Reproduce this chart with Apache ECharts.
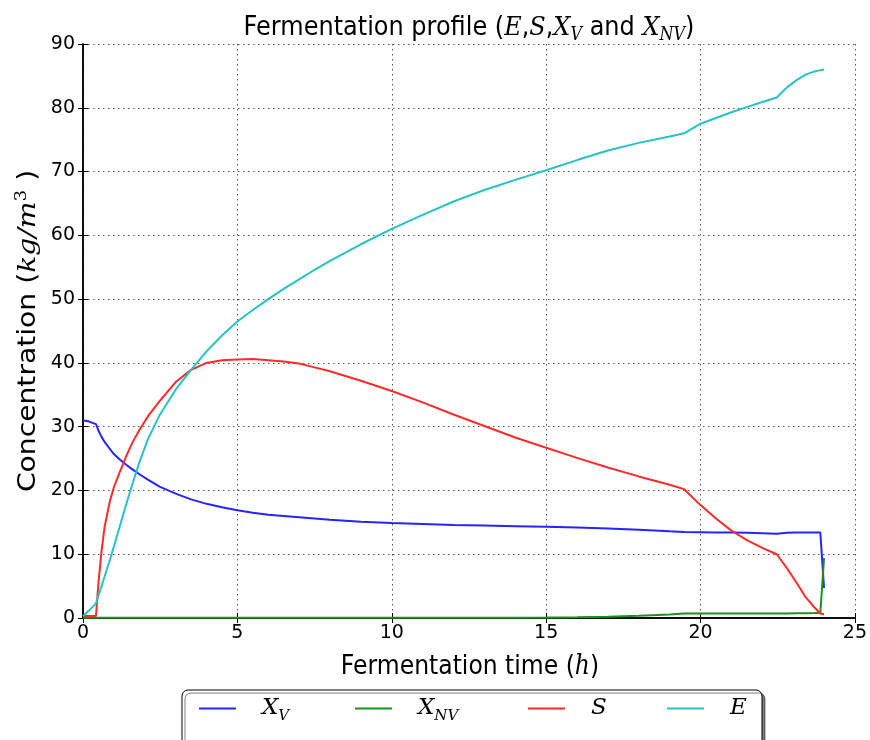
<!DOCTYPE html>
<html><head><meta charset="utf-8">
<script src="https://cdn.jsdelivr.net/npm/echarts@6/dist/echarts.min.js"></script>
<style>html,body{margin:0;padding:0;background:#fff}#c{width:870px;height:740px}</style>
</head><body><div id="c"></div>
<script>
// Fermentation time (h)
const time = [0, 0.2, 0.42, 0.5, 0.6, 0.7, 0.87, 1.0, 1.2, 1.41,
  1.6, 1.84, 2.1, 2.48, 3.0, 3.5, 4.0, 4.5, 5.0, 5.5,
  6.0, 6.5, 7, 7.5, 8, 9, 10, 11, 12, 13,
  14, 15, 16, 17, 18, 19, 19.47, 20, 20.5, 21,
  21.5, 22, 22.47, 22.8, 23.1, 23.4, 23.7, 23.88, 24.0];
// Viable biomass X_V
const XV = [31.0, 30.8, 30.4, 29.4, 28.4, 27.6, 26.5, 25.7, 24.8, 24.0,
  23.3, 22.5, 21.7, 20.6, 19.5, 18.6, 17.9, 17.35, 16.9, 16.5,
  16.2, 16.0, 15.8, 15.6, 15.4, 15.1, 14.9, 14.75, 14.6, 14.5,
  14.4, 14.3, 14.2, 14.05, 13.85, 13.6, 13.5, 13.45, 13.4, 13.4,
  13.35, 13.3, 13.2, 13.35, 13.4, 13.4, 13.4, 13.4, 4.7];
// Non-viable biomass X_NV
const XNV = [0.02, 0.02, 0.02, 0.02, 0.02, 0.02, 0.02, 0.02, 0.02, 0.02,
  0.02, 0.02, 0.02, 0.02, 0.02, 0.02, 0.02, 0.02, 0.02, 0.02,
  0.03, 0.03, 0.03, 0.03, 0.03, 0.03, 0.03, 0.03, 0.04, 0.04,
  0.05, 0.06, 0.1, 0.2, 0.35, 0.55, 0.7, 0.7, 0.7, 0.7,
  0.7, 0.7, 0.7, 0.72, 0.74, 0.76, 0.78, 0.8, 9.4];
// Substrate S
const S = [0.3, 0.3, 0.3, 5.5, 10.5, 14.3, 18.3, 20.5, 23.0, 25.5,
  27.5, 29.6, 31.6, 34.0, 37.0, 38.9, 40.0, 40.4, 40.55, 40.6,
  40.4, 40.2, 39.9, 39.3, 38.7, 37.2, 35.6, 33.8, 31.9, 30.1,
  28.3, 26.7, 25.1, 23.6, 22.2, 20.9, 20.2, 17.7, 15.6, 13.7,
  12.2, 11.0, 10.0, 7.8, 5.6, 3.3, 1.6, 0.7, 0.6];
// Ethanol E
const E = [0.3, 1.2, 2.3, 3.5, 5.0, 6.5, 9.1, 11.2, 14.5, 18.0,
  21.0, 24.6, 28.0, 31.8, 35.8, 38.9, 41.8, 44.3, 46.5, 48.3,
  50.0, 51.6, 53.1, 54.6, 56.0, 58.6, 61.0, 63.2, 65.3, 67.1,
  68.7, 70.2, 71.8, 73.3, 74.5, 75.5, 76.0, 77.5, 78.4, 79.3,
  80.1, 80.9, 81.6, 83.2, 84.3, 85.2, 85.7, 85.9, 86.0];

const xTicks = [0, 5, 10, 15, 20, 25];
const yTicks = [0, 10, 20, 30, 40, 50, 60, 70, 80, 90];

const seriesNames = ['XV', 'XNV', 'S', 'E'];
const seriesValues = [XV, XNV, S, E];
const seriesColors = ['#2424ff', '#1f8f1f', '#ff2a2a', '#26c3c3'];
const legendLabels = {
  XV: '{g|}{i|X}{s|V}',
  XNV: '{g|}{i|X}{s|NV}',
  S: '{g|}{i|S}',
  E: '{g|}{i|E}'
};
const legendLeft = [199, 355, 528, 667];

const SANS = 'DejaVu Sans';
const MATH = 'DejaVu Serif';

function pairs(vals) { return time.map((t, k) => [t, vals[k]]); }

const chart = echarts.init(document.getElementById('c'), null, {renderer: 'canvas'});

const gridLine = {show: true, lineStyle: {color: '#555', width: 1, type: [1.5, 3.5]}};
const tickIn = {show: true, inside: true, length: 5, lineStyle: {color: '#000', width: 1}};
const axLine = {show: true, lineStyle: {color: '#000', width: 1.5}};
const lblStyle = {fontFamily: SANS, fontSize: 19, color: '#000'};

const legendRich = {
  g: {width: 21, height: 10},
  i: {fontFamily: MATH, fontStyle: 'italic', fontSize: 23, lineHeight: 30, color: '#000'},
  s: {fontFamily: MATH, fontStyle: 'italic', fontSize: 15, lineHeight: 18, verticalAlign: 'bottom', color: '#000'}
};

const option = {
  animation: false,
  backgroundColor: '#fff',
  grid: {left: 83, top: 44, width: 775, height: 574, containLabel: false},
  xAxis: [
    {type: 'value', position: 'bottom', min: xTicks[0], max: xTicks[xTicks.length - 1], interval: xTicks[1] - xTicks[0],
     axisLine: axLine, axisTick: tickIn, splitLine: gridLine,
     axisLabel: Object.assign({margin: 6}, lblStyle)},
    {type: 'value', position: 'top', min: xTicks[0], max: xTicks[xTicks.length - 1], interval: xTicks[1] - xTicks[0],
     axisLine: axLine, axisTick: tickIn, splitLine: {show: false}, axisLabel: {show: false}}
  ],
  yAxis: [
    {type: 'value', position: 'left', min: yTicks[0], max: yTicks[yTicks.length - 1], interval: yTicks[1] - yTicks[0],
     axisLine: axLine, axisTick: tickIn, splitLine: gridLine,
     axisLabel: Object.assign({margin: 8}, lblStyle)},
    {type: 'value', position: 'right', min: yTicks[0], max: yTicks[yTicks.length - 1], interval: yTicks[1] - yTicks[0],
     axisLine: axLine, axisTick: tickIn, splitLine: {show: false}, axisLabel: {show: false}}
  ],
  legend: seriesNames.map((nm, k) => ({
    show: true,
    orient: 'horizontal',
    left: legendLeft[k], top: 697,
    padding: 0,
    z: 6,
    icon: 'rect',
    itemWidth: 37, itemHeight: 2,
    data: [nm],
    formatter: name => legendLabels[name],
    textStyle: {color: '#000', rich: legendRich}
  })),
  graphic: [
    {type: 'rect', z: 2, shape: {x: 182, y: 690, width: 580, height: 60, r: 6},
     style: {fill: '#fff', stroke: '#000', lineWidth: 1,
             shadowColor: 'rgba(0,0,0,0.5)', shadowBlur: 0, shadowOffsetX: 3, shadowOffsetY: 3}},
    {type: 'text', x: 469, y: 28, scaleY: 1.12, style: {
      text: '{n|Fermentation profile (}{i|E}{n|,}{i|S}{n|,}{i|X}{s|V}{n| and }{i|X}{s|NV}{n|)}',
      align: 'center', verticalAlign: 'middle',
      rich: {
        n: {fontFamily: SANS, fontSize: 24, lineHeight: 30, fill: '#000'},
        i: {fontFamily: MATH, fontStyle: 'italic', fontSize: 24, lineHeight: 30, fill: '#000'},
        s: {fontFamily: MATH, fontStyle: 'italic', fontSize: 16, lineHeight: 19, verticalAlign: 'bottom', fill: '#000'}
      }}},
    {type: 'text', x: 470, y: 667, scaleY: 1.15, style: {
      text: '{n|Fermentation time (}{i|h}{n|)}',
      align: 'center', verticalAlign: 'middle',
      rich: {
        n: {fontFamily: SANS, fontSize: 23.5, lineHeight: 30, fill: '#000'},
        i: {fontFamily: MATH, fontStyle: 'italic', fontSize: 23.5, lineHeight: 30, fill: '#000'}
      }}},
    {type: 'text', x: 29, y: 331, rotation: Math.PI / 2, scaleX: 1.15, style: {
      text: '{n|Concentration (}{i|kg/m}{p|3}{n| )}',
      align: 'center', verticalAlign: 'middle',
      rich: {
        n: {fontFamily: SANS, fontSize: 24.5, lineHeight: 30, fill: '#000'},
        i: {fontFamily: MATH, fontStyle: 'italic', fontSize: 24.5, lineHeight: 30, fill: '#000'},
        p: {fontFamily: MATH, fontSize: 16, lineHeight: 17, verticalAlign: 'top', fill: '#000'}
      }}}
  ],
  series: seriesNames.map((nm, k) => ({
    name: nm, type: 'line', data: pairs(seriesValues[k]),
    xAxisIndex: 0, yAxisIndex: 0,
    showSymbol: false, symbol: 'none', smooth: false,
    lineStyle: {color: seriesColors[k], width: 2},
    itemStyle: {color: seriesColors[k]},
    z: 3 + k
  }))
};
chart.setOption(option);
</script>
</body></html>
